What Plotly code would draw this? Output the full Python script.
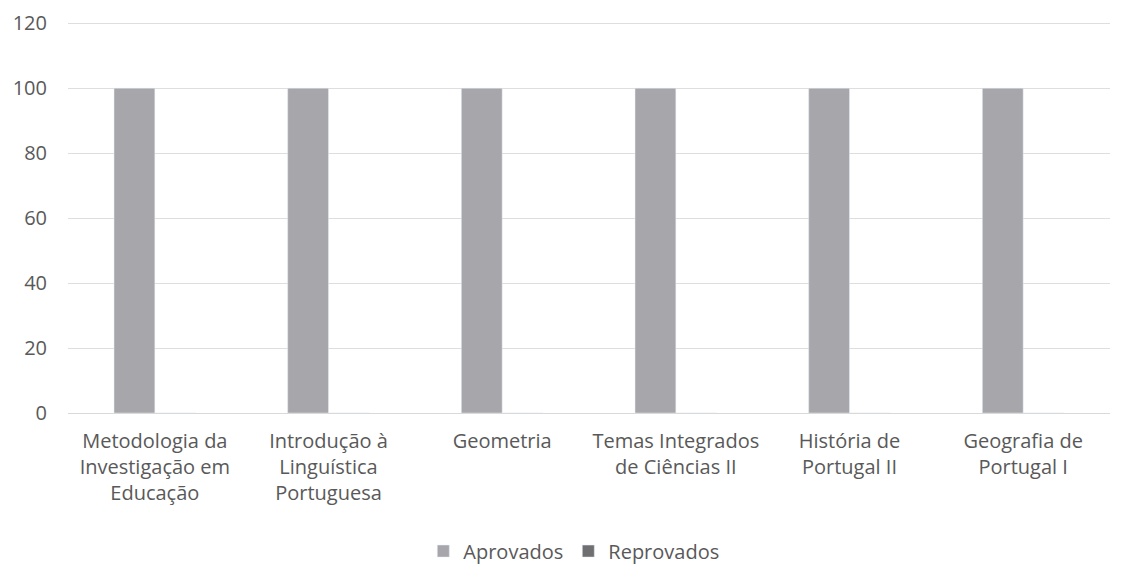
import plotly.graph_objects as go

categories = [
    "Metodologia da<br>Investigação em<br>Educação",
    "Introdução à<br>Linguística<br>Portuguesa",
    "Geometria",
    "Temas Integrados<br>de Ciências II",
    "História de<br>Portugal II",
    "Geografia de<br>Portugal I",
]
aprovados = [100, 100, 100, 100, 100, 100]
reprovados = [0, 0, 0, 0, 0, 0]

fig = go.Figure()
fig.add_trace(go.Bar(name="Aprovados", x=categories, y=aprovados, marker_color="#a7a6ab"))
fig.add_trace(go.Bar(name="Reprovados", x=categories, y=reprovados, marker_color="#6f6f72"))

font = dict(family="Open Sans, Liberation Sans, sans-serif", size=20, color="#595959")
fig.update_layout(
    barmode="group",
    bargap=0.53,
    bargroupgap=0,
    width=1116,
    height=557,
    margin=dict(l=60, r=14, t=12, b=152, autoexpand=False),
    plot_bgcolor="white",
    paper_bgcolor="white",
    font=font,
    legend=dict(orientation="h", xref="container", x=0.507, xanchor="center",
                yref="container", y=0.025, yanchor="middle",
                font=dict(size=20, color="#595959"),
                itemwidth=30, tracegroupgap=0),
    xaxis=dict(showgrid=False, showline=True, linecolor="#d9d9d9", ticks="",
               automargin=False, ticklabelstandoff=10,
               tickfont=dict(size=20, color="#595959")),
    yaxis=dict(range=[0, 121], dtick=20, showgrid=True, gridcolor="#dedede",
               zeroline=False, ticks="", ticklabelstandoff=20, automargin=False,
               ticklabeloverflow="allow",
               tickfont=dict(size=20, color="#595959")),
)
fig.write_html("out.html")
